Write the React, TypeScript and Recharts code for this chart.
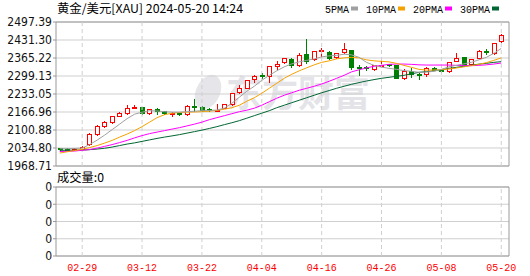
import React from "react";
import {
  ComposedChart,
  Bar,
  Line,
  XAxis,
  YAxis,
  CartesianGrid,
  ReferenceLine,
  ReferenceArea,
} from "recharts";

const dates = [
  "02-26", "02-27", "02-28", "02-29", "03-01", "03-04", "03-05", "03-06", "03-07", "03-08",
  "03-11", "03-12", "03-13", "03-14", "03-15", "03-18", "03-19", "03-20", "03-21", "03-22",
  "03-25", "03-26", "03-27", "03-28", "04-01", "04-02", "04-03", "04-04", "04-05", "04-08",
  "04-09", "04-10", "04-11", "04-12", "04-15", "04-16", "04-17", "04-18", "04-19", "04-22",
  "04-23", "04-24", "04-25", "04-26", "04-29", "04-30", "05-01", "05-02", "05-03", "05-06",
  "05-07", "05-08", "05-09", "05-10", "05-13", "05-14", "05-15", "05-16", "05-17", "05-20",
];

const opens = [
  2032, 2031, 2030, 2030, 2046, 2083, 2114, 2129, 2149, 2162,
  2182, 2182, 2160, 2175, 2169, 2160, 2163, 2156, 2188, 2185,
  2176, 2172, 2181, 2194, 2240, 2254, 2285, 2300, 2298, 2335,
  2347, 2360, 2338, 2378, 2360, 2389, 2385, 2367, 2385, 2393,
  2332, 2330, 2323, 2336, 2340, 2338, 2289, 2317, 2305, 2304,
  2328, 2318, 2314, 2353, 2367, 2341, 2363, 2390, 2382, 2425,
];
const highs = [
  2036, 2036, 2034, 2042, 2090, 2120, 2135, 2154, 2166, 2194,
  2192, 2187, 2178, 2182, 2172, 2166, 2164, 2191, 2213, 2190,
  2181, 2197, 2196, 2237, 2267, 2285, 2301, 2309, 2336, 2353,
  2367, 2367, 2382, 2434, 2391, 2402, 2390, 2385, 2421, 2396,
  2338, 2336, 2341, 2357, 2344, 2341, 2326, 2328, 2310, 2332,
  2332, 2320, 2351, 2383, 2369, 2363, 2394, 2400, 2422, 2455,
];
const lows = [
  2020, 2025, 2027, 2028, 2042, 2080, 2110, 2123, 2147, 2156,
  2181, 2156, 2157, 2156, 2157, 2148, 2151, 2151, 2166, 2166,
  2168, 2170, 2180, 2190, 2234, 2250, 2275, 2289, 2275, 2320,
  2345, 2328, 2332, 2345, 2353, 2369, 2357, 2360, 2381, 2322,
  2299, 2318, 2317, 2332, 2334, 2287, 2283, 2292, 2285, 2295,
  2316, 2311, 2311, 2351, 2333, 2336, 2360, 2378, 2378, 2422,
];
const closes = [
  2030, 2029, 2031, 2037, 2086, 2113, 2129, 2150, 2161, 2178,
  2184, 2162, 2176, 2170, 2160, 2163, 2160, 2187, 2184, 2173,
  2172, 2174, 2194, 2234, 2254, 2283, 2298, 2296, 2335, 2341,
  2362, 2336, 2375, 2353, 2388, 2391, 2363, 2381, 2396, 2330,
  2328, 2327, 2336, 2339, 2338, 2289, 2317, 2304, 2302, 2326,
  2320, 2315, 2348, 2364, 2338, 2359, 2390, 2386, 2419, 2449,
];

const ma5 = [
  2032.0, 2032.3, 2033.1, 2034.5, 2047.3, 2063.8, 2082.1, 2102.2, 2122.4, 2142.5,
  2158.9, 2166.3, 2171.7, 2170.7, 2168.1, 2166.3, 2166.3, 2168.1, 2169.9, 2171.7,
  2172.5, 2174.3, 2180.9, 2199.2, 2221.1, 2243.1, 2261.4, 2283.4, 2301.6, 2318.1,
  2332.7, 2343.7, 2351.0, 2356.5, 2362.0, 2369.3, 2373.0, 2374.8, 2379.2, 2376.7,
  2367.5, 2349.2, 2338.2, 2331.6, 2327.3, 2323.6, 2318.8, 2316.3, 2312.6, 2313.4,
  2316.3, 2323.6, 2332.7, 2338.2, 2343.7, 2349.2, 2358.4, 2367.5, 2382.1, 2400.4,
];
const ma10 = [
  2016.2, 2021.0, 2025.4, 2030.1, 2036.4, 2043.7, 2052.8, 2062.7, 2074.8, 2085.8,
  2098.6, 2113.2, 2129.7, 2146.1, 2157.1, 2162.6, 2165.2, 2166.3, 2167.0, 2168.1,
  2169.9, 2172.5, 2177.2, 2182.7, 2191.9, 2206.5, 2219.3, 2235.8, 2254.1, 2272.4,
  2290.7, 2305.3, 2318.1, 2329.1, 2340.1, 2349.2, 2354.7, 2362.0, 2365.7, 2367.5,
  2365.7, 2358.4, 2354.7, 2352.9, 2351.0, 2345.6, 2338.2, 2330.9, 2323.6, 2320.7,
  2321.0, 2322.5, 2324.7, 2328.4, 2332.7, 2337.1, 2341.9, 2348.1, 2356.5, 2365.7,
];
const ma20 = [
  2021.7, 2022.5, 2023.6, 2026.5, 2029.0, 2034.5, 2040.8, 2047.3, 2054.7, 2062.7,
  2071.9, 2080.3, 2087.6, 2093.1, 2098.6, 2104.1, 2109.5, 2115.8, 2122.4, 2129.7,
  2138.8, 2146.1, 2153.5, 2160.8, 2168.1, 2173.6, 2180.9, 2191.9, 2204.7, 2217.5,
  2228.5, 2237.6, 2246.8, 2254.1, 2261.4, 2269.8, 2279.7, 2290.7, 2301.6, 2314.4,
  2321.8, 2329.1, 2334.6, 2338.2, 2341.9, 2343.0, 2343.0, 2341.9, 2340.1, 2339.3,
  2339.3, 2339.3, 2339.3, 2338.2, 2337.1, 2337.1, 2338.2, 2340.1, 2343.0, 2346.7,
];
const ma30 = [
  2026.1, 2026.5, 2026.9, 2027.2, 2028.7, 2030.9, 2033.8, 2038.2, 2043.7, 2049.2,
  2053.6, 2059.1, 2064.5, 2070.0, 2074.8, 2079.2, 2083.9, 2089.4, 2094.9, 2100.4,
  2106.6, 2113.2, 2120.5, 2127.5, 2135.2, 2144.3, 2153.5, 2162.6, 2171.7, 2182.7,
  2191.9, 2201.0, 2210.2, 2219.3, 2228.5, 2237.6, 2245.7, 2254.1, 2261.4, 2268.7,
  2274.9, 2280.8, 2285.9, 2290.7, 2294.3, 2298.0, 2301.6, 2307.1, 2312.6, 2315.2,
  2318.1, 2321.8, 2327.3, 2330.9, 2334.6, 2339.0, 2342.6, 2345.6, 2349.2, 2351.8,
];
const volumes = dates.map(() => 0);

const priceTicks = [1968.71, 2034.8, 2100.88, 2166.96, 2233.05, 2299.13, 2365.22, 2431.3, 2497.39];
const dateTicks = ["02-29", "03-12", "03-22", "04-04", "04-16", "04-26", "05-08", "05-20"];
const volTicks = [0, 1, 2, 3, 4];
const volTickLabels = ["0", "0", "0", "0", "0"];

const legendItems = [
  { name: "5PMA", color: "#a0a0a0" },
  { name: "10PMA", color: "#f5a200" },
  { name: "20PMA", color: "#ff00ff" },
  { name: "30PMA", color: "#006633" },
];

const RED = "#ff0000";
const GREEN = "#008000";
const BORDER = "#9a9a9a";
const GRID = "#cfcfcf";
const NUM_FONT = "'DejaVu Sans Condensed', 'DejaVu Sans', sans-serif";
const CJK_FONT = "'Noto Sans CJK SC', sans-serif";
const MONO_FONT = "'Liberation Mono', 'DejaVu Sans Mono', monospace";

// panel heights in px: price panel, gap with the volume caption, volume panel
const PRICE_H = 144;
const GAP_H = 21;
const VOL_H = 69;

const pLow = priceTicks[0];
const pHigh = priceTicks[priceTicks.length - 1];
const priceDomain = [pLow - ((GAP_H + VOL_H) / PRICE_H) * (pHigh - pLow), pHigh];
const vHigh = volTicks[volTicks.length - 1];
const volDomain = [0, (vHigh * (PRICE_H + GAP_H + VOL_H)) / VOL_H];

// the volume ticks expressed on the left (price) axis, so one axis carries all labels
const volTickOnPrice = volTicks.map(
  (t) => priceDomain[0] + (t / volDomain[1]) * (priceDomain[1] - priceDomain[0])
);
const leftTicks = [...volTickOnPrice, ...priceTicks];
const formatLeft = (v: number) => {
  const k = volTickOnPrice.findIndex((p) => Math.abs(p - v) < 1e-6);
  return k >= 0 ? volTickLabels[k] : v.toFixed(2);
};

const data = dates.map((date, i) => ({
  date,
  open: opens[i],
  high: highs[i],
  low: lows[i],
  close: closes[i],
  ma5: ma5[i],
  ma10: ma10[i],
  ma20: ma20[i],
  ma30: ma30[i],
  vol: volumes[i],
}));

const Candle = (props: any) => {
  const { x, y, width, height, payload } = props;
  if (x == null || y == null) return null;
  const { open, close, high, low } = payload;
  const top = Math.min(y, y + height);
  const h = Math.abs(height);
  const span = high - low;
  const py = (v: number) => (span === 0 ? top : top + ((high - v) / span) * h);
  const up = close >= open;
  const color = up ? RED : GREEN;
  const cx = Math.round(x + width / 2) + 0.5;
  const bTop = py(Math.max(open, close));
  const bBot = py(Math.min(open, close));
  return (
    <g shapeRendering="crispEdges">
      <line x1={cx} x2={cx} y1={top} y2={top + h} stroke={color} />
      <rect
        x={cx - 2}
        y={bTop}
        width={4}
        height={Math.max(1, bBot - bTop)}
        fill={up ? "#fff" : color}
        stroke={color}
      />
    </g>
  );
};

const DateTick = ({ x, y, payload }: any) => (
  <text
    x={x}
    y={y + 15}
    textAnchor="middle"
    fill={RED}
    fontFamily={MONO_FONT}
    fontSize={11}
    textLength={30}
    lengthAdjust="spacingAndGlyphs"
  >
    {payload.value}
  </text>
);

const numTick = { fontSize: 12, fill: "#111", fontFamily: NUM_FONT };

const Header = () => {
  let cursor = 325;
  const items = legendItems.map((it) => {
    const w = it.name.length * 6;
    const el = (
      <g key={it.name}>
        <text x={cursor} y={13} fontFamily={MONO_FONT} fontSize={11} textLength={w} lengthAdjust="spacingAndGlyphs">
          {it.name}
        </text>
        <rect x={cursor + w + 2} y={6.5} width={7} height={4} fill={it.color} />
      </g>
    );
    cursor += w + 17;
    return el;
  });
  return (
    <svg width={530} height={276} style={{ position: "absolute", left: 0, top: 0, pointerEvents: "none" }}>
      <text x={57} y={13} fontFamily={CJK_FONT} fontSize={12} textLength={186} lengthAdjust="spacingAndGlyphs">
        黄金/美元[XAU] 2024-05-20 14:24
      </text>
      {items}
      <text x={57} y={182} fontFamily={CJK_FONT} fontSize={12} textLength={47} lengthAdjust="spacingAndGlyphs">
        成交量:0
      </text>
    </svg>
  );
};

const Watermark = () => (
  <svg width={530} height={276} style={{ position: "absolute", left: 0, top: 0 }}>
    <ellipse cx={208} cy={92} rx={12} ry={18} transform="rotate(25 208 92)" fill="#e6e6ea" />
    <text x={226} y={107} fontFamily={CJK_FONT} fontSize={36} fontWeight={700} fill="#e4e4e8">
      东方财富
    </text>
  </svg>
);

export default function App() {
  return (
    <div style={{ position: "absolute", left: 0, top: 0, width: 530, height: 276, background: "#fff" }}>
      <Watermark />
      <div style={{ position: "absolute", left: 0, top: 0, width: 530, height: 276 }}>
        <ComposedChart
          id="xau-kline"
          width={530}
          height={276}
          data={data}
          margin={{ top: 22, right: 21, bottom: 0, left: 0 }}
        >
          <XAxis
            dataKey="date"
            ticks={dateTicks}
            interval={0}
            tick={<DateTick />}
            tickLine={false}
            tickSize={0}
            tickMargin={0}
            height={20}
            axisLine={false}
            padding={{ left: 0, right: 4 }}
          />
          <XAxis xAxisId="b" dataKey="date" hide />
          <XAxis xAxisId="c" dataKey="date" hide padding={{ left: 0, right: 4 }} />
          <YAxis yAxisId="v" hide domain={volDomain} allowDataOverflow />
          <YAxis
            yAxisId="p"
            domain={priceDomain}
            ticks={leftTicks}
            interval={0}
            allowDataOverflow
            tickFormatter={formatLeft}
            width={56}
            tickSize={3}
            tickMargin={1}
            tick={numTick}
            axisLine={false}
            tickLine={{ stroke: BORDER }}
          />
          <CartesianGrid yAxisId="p" vertical={false} stroke={GRID} />
          {dateTicks.map((d) => (
            <ReferenceLine
              key={"p" + d}
              yAxisId="p"
              segment={[{ x: d, y: pLow }, { x: d, y: pHigh }]}
              stroke={GRID}
              strokeDasharray="4 3"
            />
          ))}
          {dateTicks.map((d) => (
            <ReferenceLine
              key={"v" + d}
              yAxisId="v"
              segment={[{ x: d, y: volTicks[0] }, { x: d, y: vHigh }]}
              stroke={GRID}
              strokeDasharray="4 3"
            />
          ))}
          <ReferenceArea xAxisId="b" yAxisId="p" y1={pLow} y2={pHigh} fill="none" fillOpacity={0} stroke={BORDER} />
          <ReferenceArea xAxisId="b" yAxisId="v" y1={volTicks[0]} y2={vHigh} fill="none" fillOpacity={0} stroke={BORDER} />
          <Bar xAxisId="c" yAxisId="v" dataKey="vol" barSize={5} fill={GREEN} isAnimationActive={false} />
          <Bar
            yAxisId="p"
            dataKey={(d: any) => [d.low, d.high]}
            barSize={5}
            shape={<Candle />}
            isAnimationActive={false}
          />
          <Line yAxisId="p" dataKey="ma30" stroke="#006633" dot={false} strokeWidth={1} isAnimationActive={false} />
          <Line yAxisId="p" dataKey="ma20" stroke="#ff00ff" dot={false} strokeWidth={1} isAnimationActive={false} />
          <Line yAxisId="p" dataKey="ma10" stroke="#f5a200" dot={false} strokeWidth={1} isAnimationActive={false} />
          <Line yAxisId="p" dataKey="ma5" stroke="#a0a0a0" dot={false} strokeWidth={1} isAnimationActive={false} />
        </ComposedChart>
      </div>
      <Header />
    </div>
  );
}
